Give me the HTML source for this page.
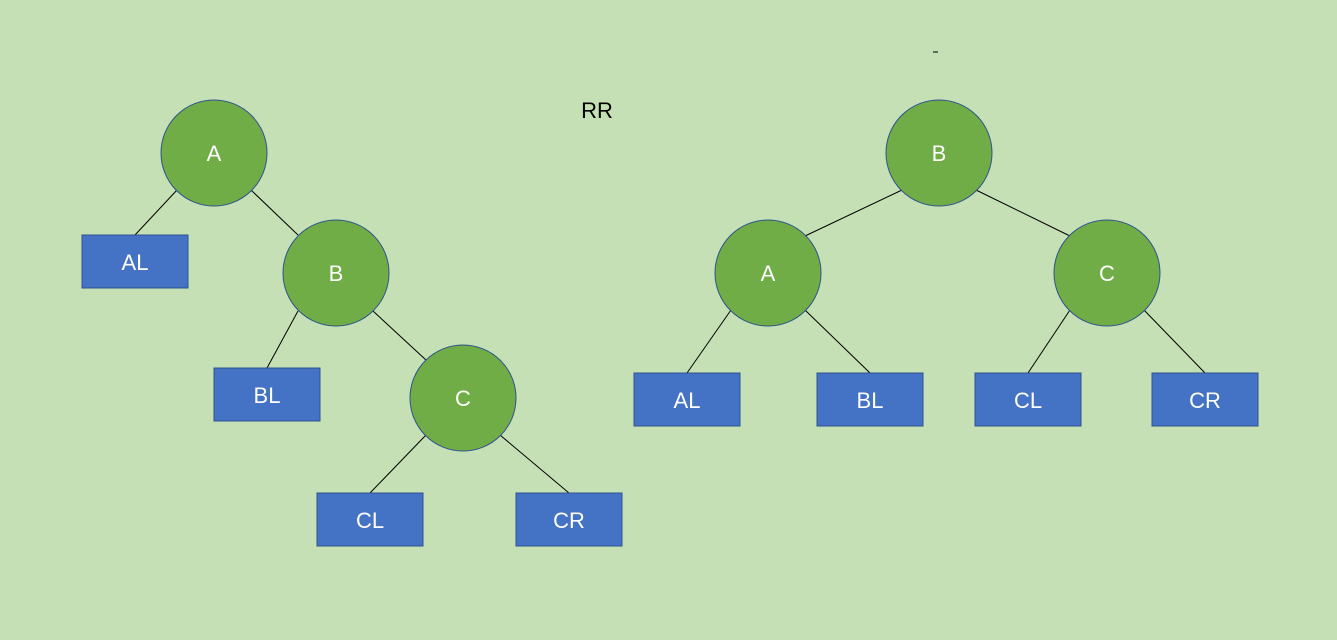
<!DOCTYPE html>
<html><head><meta charset="utf-8"><style>body{margin:0;background:#c5e0b4}svg{display:block}</style></head><body>
<svg width="1337" height="640" xmlns="http://www.w3.org/2000/svg" font-family="Liberation Sans, sans-serif">
<rect width="1337" height="640" fill="#c5e0b4"/>
<g stroke="#000" stroke-width="1">
<line x1="177" y1="190" x2="135" y2="235"/><line x1="251" y1="190" x2="298" y2="235"/>
<line x1="298" y1="311" x2="267" y2="368"/><line x1="373" y1="311" x2="426" y2="360"/>
<line x1="426" y1="435" x2="370" y2="493"/><line x1="500" y1="435" x2="569" y2="493"/>
<line x1="902" y1="190" x2="805" y2="236"/><line x1="976" y1="190" x2="1070" y2="236"/>
<line x1="731" y1="310" x2="687" y2="373"/><line x1="805" y1="310" x2="870" y2="373"/>
<line x1="1070" y1="310" x2="1028" y2="373"/><line x1="1144" y1="310" x2="1205" y2="373"/>
<line x1="933" y1="52" x2="938" y2="52"/>
</g>
<g fill="#70ad47" stroke="#2f528f" stroke-width="1">
<circle cx="214" cy="153" r="53"/><circle cx="336" cy="273" r="53"/><circle cx="463" cy="398" r="53"/>
<circle cx="939" cy="153" r="53"/><circle cx="768" cy="273" r="53"/><circle cx="1107" cy="273" r="53"/>
</g>
<g fill="#4472c4" stroke="#2f528f" stroke-width="1">
<rect x="82" y="235" width="106" height="53"/><rect x="214" y="368" width="106" height="53"/>
<rect x="317" y="493" width="106" height="53"/><rect x="516" y="493" width="106" height="53"/>
<rect x="634" y="373" width="106" height="53"/><rect x="817" y="373" width="106" height="53"/>
<rect x="975" y="373" width="106" height="53"/><rect x="1152" y="373" width="106" height="53"/>
</g>
<g fill="#fff" font-size="22" text-anchor="middle">
<text x="214" y="161">A</text><text x="336" y="281">B</text><text x="463" y="406">C</text>
<text x="939" y="161">B</text><text x="768" y="281">A</text><text x="1107" y="281">C</text>
<text x="135" y="270">AL</text><text x="267" y="403">BL</text><text x="370" y="528">CL</text><text x="569" y="528">CR</text>
<text x="687" y="408">AL</text><text x="870" y="408">BL</text><text x="1028" y="408">CL</text><text x="1205" y="408">CR</text>
</g>
<text x="597" y="118" font-size="22" text-anchor="middle" fill="#000">RR</text>
</svg>
</body></html>
